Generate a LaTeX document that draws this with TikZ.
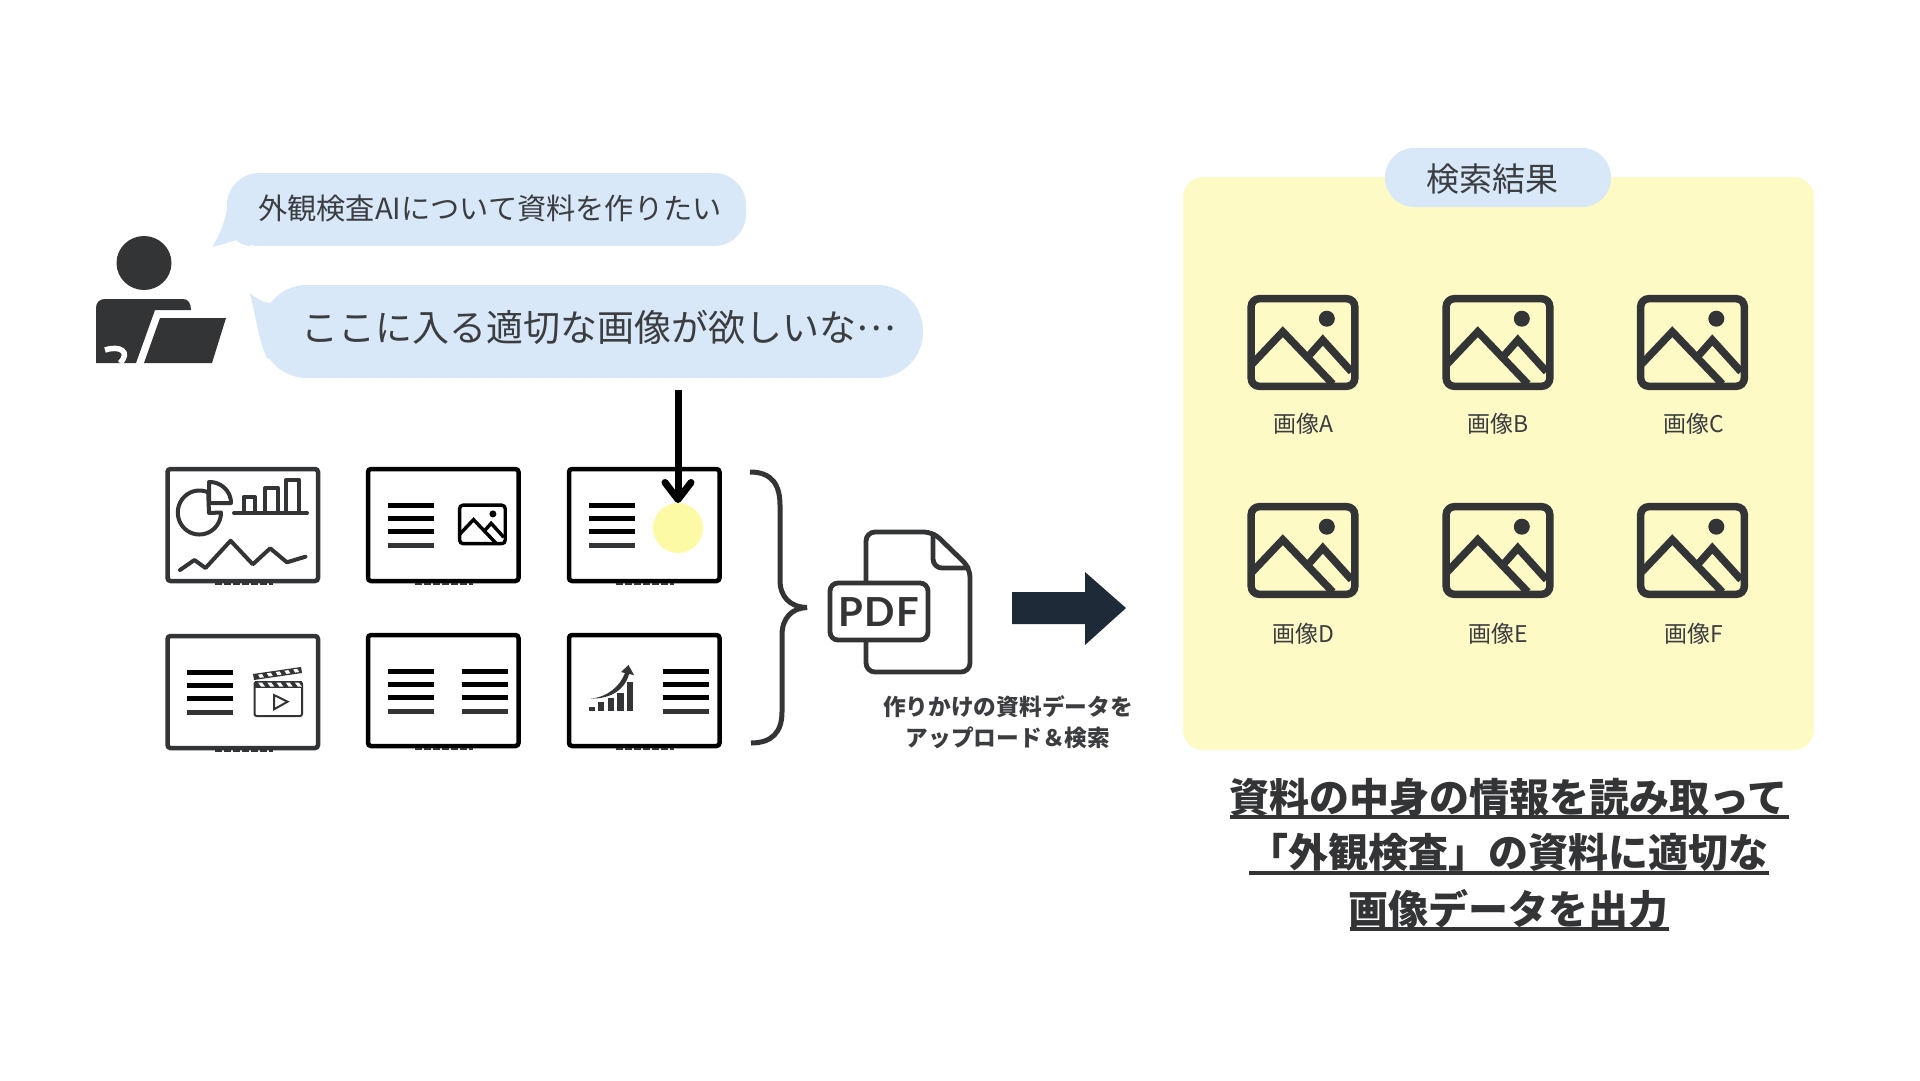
\documentclass[tikz,border=0pt]{standalone}
\usepackage{fontspec}
\usetikzlibrary{arrows.meta}
\newfontfamily\jp{Noto Sans CJK JP}
\newfontfamily\pdffont[LetterSpace=4]{Lato}
\definecolor{ink}{HTML}{333436}
\definecolor{txt}{HTML}{3B3D40}
\definecolor{bubble}{HTML}{D8E8F8}
\definecolor{panel}{HTML}{FEFAC6}
\definecolor{dot}{HTML}{FDFAA5}
\definecolor{navy}{HTML}{1F2A38}
\newcommand{\fs}[1]{\fontsize{#1}{#1}\selectfont}
\newcommand{\imgicon}[5]{%
  \begin{scope}[shift={(#1,#2)},scale=#3,line width=#4,draw=#5,line join=miter]
    \draw[rounded corners=#3*8] (3.7,3.7) rectangle (107.3,91.3);
    \fill[#5] (79.3,23.7) circle[radius=8];
    \draw (3.7,70) -- (35.3,36.7) -- (85.3,89);
    \draw (62,60) -- (75.3,45) -- (104,76.7);
  \end{scope}}
\newcommand{\hlines}[3]{% x, first y, colour of last
  \foreach \k/\d in {0/0,1/13,2/26,3/40}{
    \ifnum\k=3 \def\cc{#3}\else\def\cc{black}\fi
    \draw[textbar,draw=\cc] (#1,#2+\d) -- (#1+46,#2+\d);
  }}
\tikzset{
  slide/.style={draw=black,line width=4.5,rounded corners=3,minimum width=150.5,minimum height=112,anchor=north west,inner sep=0,outer sep=0},
  slidegray/.style={slide,draw=ink},
  textbar/.style={line width=5},
  tiny/.style={line width=2,dash pattern=on 7 off 2,draw=ink},
  lbl/.style={anchor=base,inner sep=0,text=txt,font=\jp},
  bub/.style={fill=bubble,inner sep=0,outer sep=0,anchor=north west},
  head/.style={anchor=base,inner sep=0,text=ink,font=\jp\bfseries\fs{40}},
  uline/.style={line width=3.5,draw=ink},
  thin1/.style={draw=ink,line width=4}
}
\begin{document}
\begin{tikzpicture}[x=1pt,y=-1pt]
\useasboundingbox (0,0) rectangle (1920,1080);
\fill[white] (0,0) rectangle (1920,1080);
% person
\fill[ink] (144,263) circle[x radius=27.5,y radius=27];
\fill[ink] (96,363) -- (96,308) .. controls (96,302) and (100,299) .. (105,299) -- (183,299) .. controls (188,299) and (191,303) .. (191,310) -- (155,310) -- (136,363) -- cycle;
\draw[white,line width=5.5] (105,350) .. controls (120,345) and (131,352) .. (120,363);
\fill[ink] (160,318) -- (226,318) -- (212,363) -- (144,363) -- cycle;
% bubbles
\node[bub,rounded corners=32,minimum width=519,minimum height=73] (b1) at (227,173) {};
\fill[bubble] (212,247) .. controls (220,235) and (226,222) .. (229,195) -- (250,246) .. controls (244,246) and (240,243) .. (236,240) .. controls (228,243) and (220,245) .. (212,247) -- cycle;
\node[bub,rounded corners=46,minimum width=662,minimum height=93] (b2) at (261,285) {};
\fill[bubble] (249.6,293) .. controls (256,298) and (262,302) .. (269,303) -- (285,300) -- (268,360) .. controls (258,340) and (256,315) .. (249.6,293) -- cycle;
\node[lbl,font=\jp\fs{29.2}] (t1) at (490,219) {外観検査AIについて資料を作りたい};
\node[lbl,font=\jp\fs{37}] (t2) at (599,341) {ここに入る適切な画像が欲しいな\raisebox{11pt}{…}};
% slides
\node[slidegray] (s1) at (167.5,469) {};
\node[slide] (s2) at (368,469) {};
\node[slide] (s3) at (569,469) {};
\node[slidegray] (s4) at (167.5,636) {};
\node[slide,minimum height=111] (s5) at (368,635) {};
\node[slide,minimum height=111] (s6) at (569,635) {};
\foreach \x/\y in {215/584,415/584,616/584,215/751,415/749,616/749}
  \draw[tiny] (\x,\y) -- (\x+58,\y);
% s1 contents
\begin{scope}[thin1,line join=round,line cap=round]
  \draw plot[domain=-66:-360,samples=50] ({199.4+21.6*cos(\x)},{512.5+22*sin(\x)}) -- (209,513) -- cycle;
  \draw (209,482) -- (209,503) -- (231,503) plot[domain=0:-90,samples=30] ({209.5+21.5*cos(\x)},{503+21*sin(\x)});
  \draw (234,513) -- (307,513);
  \draw (243.5,513) -- (243.5,497) -- (255,497) -- (255,513);
  \draw (265,513) -- (265,488) -- (278,488) -- (278,513);
  \draw (286,513) -- (286,480) -- (299,480) -- (299,513);
  \draw (180,570) -- (194.4,560) -- (205.5,568) -- (230.6,540.7) -- (252.8,564.3) -- (270.2,548.3) -- (286.9,562.3) -- (305.4,556.7);
\end{scope}
% s2 contents
\hlines{387.5}{505}{ink}
\imgicon{458}{503.5}{0.44}{3.4}{black}
% s3 contents
\hlines{589}{505}{ink}
\node[circle,fill=dot,minimum size=50,inner sep=0,outer sep=0] (spot) at (678,528) {};
\coordinate (arrowstart) at (678,390);
\draw[line width=7,-{Straight Barb[length=17,width=26,line width=7,round]}] (arrowstart) -- (spot.north);
% s4 contents
\hlines{187}{672}{ink}
\begin{scope}[draw=ink,line width=2]
  \draw[rounded corners=2] (254.5,682) rectangle (302,716);
  \fill[ink] (254.5,681) rectangle (302,688);
  \foreach \i in {0,1,2,3,4} \fill[white] (258+\i*9.2,682.5) -- (262+\i*9.2,682.5) -- (265+\i*9.2,686.5) -- (261+\i*9.2,686.5) -- cycle;
  \fill[ink] (253,674) -- (301,667) -- (302,673) -- (254,680) -- cycle;
  \foreach \i in {0,1,2,3,4} \fill[white] (258+\i*8.8,674.6-\i*1.3) -- (262+\i*8.8,674-\i*1.3) -- (264+\i*8.8,677.2-\i*1.3) -- (260+\i*8.8,677.8-\i*1.3) -- cycle;
  \draw[line join=miter] (274,695) -- (287.6,701.7) -- (274,709.3) -- cycle;
\end{scope}
% s5 contents
\hlines{387.5}{671}{ink}
\hlines{461.5}{671}{ink}
% s6 contents
\foreach \a/\b/\t in {589/595/706.7,598.4/604.3/701.7,608/614/698.3,617/623.5/693.3,627.3/633/681.7}
  \fill[ink] (\a,\t) rectangle (\b,710.7);
\fill[ink] (591,698.5) .. controls (608,697) and (620,686) .. (625,673) -- (621,672) -- (628.5,665) -- (634,675) -- (629,674) .. controls (625,690) and (610,699) .. (591,698.5) -- cycle;
\hlines{662.5}{671}{ink}
% brace
\draw[ink,line width=5] (750,472) .. controls (772,472) and (780,485) .. (780,505) -- (780,580) .. controls (780,597) and (790,607) .. (807,607.5) .. controls (792,608) and (782,618) .. (782,635) -- (782,712) .. controls (782,732) and (772,743) .. (751,743);
% pdf icon
\draw[ink,line width=4.8,line join=round,rounded corners=9] (866,583) -- (866,532) -- (933,532) -- (970,568) -- (970,672) -- (866,672) -- (866,640);
\draw[ink,line width=4.8,line join=round,rounded corners=9] (933,532) -- (933,568) -- (970,568);
\draw[ink,line width=4.8,rounded corners=8] (830,583) rectangle (928,640);
\node[anchor=base,inner sep=0,text=ink,font=\pdffont\bfseries\fs{40}] (pdftxt) at (879,626) {PDF};
% big arrow
\fill[navy] (1012,592) -- (1085,592) -- (1085,572) -- (1126,608) -- (1085,645) -- (1085,624) -- (1012,624) -- cycle;
\node[lbl,font=\jp\bfseries\fs{22.7}] (c1) at (1008,715) {作りかけの資料データを};
\node[lbl,font=\jp\bfseries\fs{22.7}] (c2) at (1008,746) {アップロード＆検索};
% panel
\fill[panel,rounded corners=20] (1183,177) rectangle (1814,750);
\node[bub,rounded corners=29,minimum width=226,minimum height=59] (pill) at (1385,148) {};
\node[lbl,font=\jp\fs{33}] (pilltxt) at (1492,191) {検索結果};
\foreach \x in {1247.5,1442.5,1637}{\imgicon{\x}{295}{1}{7.5}{ink}\imgicon{\x}{503}{1}{7.5}{ink}}
\node[lbl,font=\jp\fs{23}] (a) at (1303.5,432) {画像A};
\node[lbl,font=\jp\fs{23}] (b) at (1498.5,432) {画像B};
\node[lbl,font=\jp\fs{23}] (c) at (1693.5,432) {画像C};
\node[lbl,font=\jp\fs{23}] (d) at (1303.5,642) {画像D};
\node[lbl,font=\jp\fs{23}] (e) at (1498.5,642) {画像E};
\node[lbl,font=\jp\fs{23}] (f) at (1693.5,642) {画像F};
% heading
\node[head] (h1) at (1508.5,812) {資料の中身の情報を読み取って};
\node[head] (h2) at (1508.5,867) {「外観検査」の資料に適切な};
\node[head] (h3) at (1508.5,924) {画像データを出力};
\draw[uline] (1230,817) -- (1789,817);
\draw[uline] (1249,873) -- (1769,873);
\draw[uline] (1349.5,929) -- (1668.6,929);
\end{tikzpicture}
\end{document}
